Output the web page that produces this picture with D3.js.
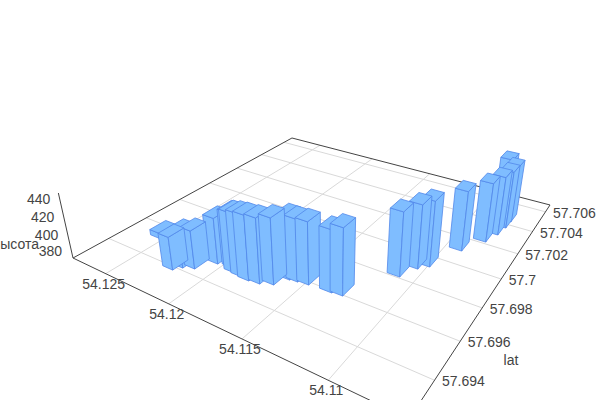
<!DOCTYPE html>
<html>
<head>
<meta charset="utf-8">
<script src="https://d3js.org/d3.v7.min.js"></script>
<style>
body { margin: 0; background: #fff; }
svg { display: block; }
text { font-family: "Liberation Sans", Arial, sans-serif; font-size: 14px; fill: #444; }
.grid { stroke: #d9d9d9; stroke-width: 1; }
.axis { stroke: #444; stroke-width: 1; }
.face { fill: #7fbdff; stroke: #5288ea; stroke-width: 0.8; stroke-linejoin: round; }
</style>
</head>
<body>
<script>
var lonTicks = [54.125, 54.12, 54.115, 54.11];
var latTicks = [57.694, 57.696, 57.698, 57.7, 57.702, 57.704, 57.706];
var zTicks = [380, 400, 420, 440];

// one entry per bar
var lon = [54.12317, 54.12248, 54.12214, 54.1215, 54.12073, 54.11974, 54.11931, 54.11873, 54.11816, 54.11747, 54.11677, 54.1163, 54.11582,
    54.11515, 54.11369, 54.11306, 54.11127, 54.11075, 54.11026, 54.10934, 54.10847, 54.10812, 54.10797, 54.10794, 54.10848];
var lat = [57.69424, 57.69422, 57.69452, 57.69472, 57.69544, 57.69555, 57.69534, 57.69529, 57.69524, 57.69531, 57.69554, 57.6961, 57.69616,
    57.69623, 57.69629, 57.69635, 57.69847, 57.6993, 57.69967, 57.70138, 57.70254, 57.70334, 57.70407, 57.70468, 57.70496];
var top_z = [410, 410, 414, 416, 425, 435, 440, 443, 445, 445, 446, 443, 442,
    442, 441, 446, 445, 445, 447, 442, 442, 442, 441, 441, 444];
var base_z = [404, 372, 372, 372, 372, 372, 372, 372, 372, 372, 372, 372, 372,
    372, 372, 372, 372, 372, 372, 372, 372, 372, 372, 372, 372];

var halfLon = 0.0004, halfLat = 0.0004;

var width = 600, height = 400;
var svg = d3.select("body").append("svg").attr("width", width).attr("height", height);

var uScale = d3.scaleLinear().domain([54.1279, 54.106]).range([0, 1]);
var vScale = d3.scaleLinear().domain([57.6923, 57.70675]).range([0, 1]);
var tScale = d3.scaleLinear().domain([372, 447]).range([0, 1]);

// camera: floor homography and the vanishing point of the verticals
function project(lo, la, z) {
    var u = uScale(lo), v = vScale(la), t = tScale(z);
    var w = 1 - 0.2942 * u + 0.4631 * v - 0.05385 * t;
    return [(215.7 * u + 354.2 * v + 73 - 17.77 * t) / w,
            (37.7 * u - 56.1 * v + 258 - 75.39 * t) / w];
}
function depth(i) {
    return -0.2942 * uScale(lon[i]) + 0.4631 * vScale(lat[i]);
}

var lonEnds = uScale.domain(), latEnds = vScale.domain(), zEnds = tScale.domain();
var z0 = zEnds[0];

function seg(p, q, cls) {
    svg.append("line").attr("class", cls)
        .attr("x1", p[0]).attr("y1", p[1]).attr("x2", q[0]).attr("y2", q[1]);
}

lonTicks.forEach(function (d) {
    seg(project(d, latEnds[0], z0), project(d, latEnds[1], z0), "grid");
});
latTicks.forEach(function (d) {
    seg(project(lonEnds[0], d, z0), project(lonEnds[1], d, z0), "grid");
});

// the three axis lines plus the back edge
seg(project(lonEnds[0], latEnds[0], z0), project(lonEnds[1], latEnds[0], z0), "axis");
seg(project(lonEnds[1], latEnds[0], z0), project(lonEnds[1], latEnds[1], z0), "axis");
seg(project(lonEnds[0], latEnds[0], z0), project(lonEnds[0], latEnds[1], z0), "axis");
seg(project(lonEnds[0], latEnds[1], z0), project(lonEnds[1], latEnds[1], z0), "axis");
seg(project(lonEnds[0], latEnds[0], z0), project(lonEnds[0], latEnds[0], zEnds[1]), "axis");

// bars, far ones first
var order = d3.range(lon.length).sort(function (p, q) { return depth(q) - depth(p); });
var line = d3.line();
order.forEach(function (i) {
    var lo0 = lon[i] + halfLon, lo1 = lon[i] - halfLon;
    var la0 = lat[i] - halfLat, la1 = lat[i] + halfLat;
    var faces = [
        [[lo0, la0, base_z[i]], [lo1, la0, base_z[i]], [lo1, la0, top_z[i]], [lo0, la0, top_z[i]]],
        [[lo1, la0, base_z[i]], [lo1, la1, base_z[i]], [lo1, la1, top_z[i]], [lo1, la0, top_z[i]]],
        [[lo0, la0, top_z[i]], [lo1, la0, top_z[i]], [lo1, la1, top_z[i]], [lo0, la1, top_z[i]]]
    ];
    svg.append("g").selectAll("path").data(faces).join("path")
        .attr("class", "face")
        .attr("d", function (f) {
            return line(f.map(function (p) { return project(p[0], p[1], p[2]); })) + "Z";
        });
});

lonTicks.forEach(function (d) {
    var p = project(d, latEnds[0], z0);
    svg.append("text").attr("x", p[0] - 2).attr("y", p[1] + 15).attr("text-anchor", "middle").text(d);
});
latTicks.forEach(function (d) {
    var p = project(lonEnds[1], d, z0);
    svg.append("text").attr("x", p[0] + 7.5).attr("y", p[1] + 6).text(d);
});
zTicks.forEach(function (d) {
    var p = project(lonEnds[0], latEnds[0], d);
    svg.append("text").attr("x", p[0] - 9.5).attr("y", p[1] + 5).attr("text-anchor", "end").text(d);
});

svg.append("text").attr("x", 511).attr("y", 365).attr("text-anchor", "middle").text("lat");
svg.append("text").attr("x", 39).attr("y", 249).attr("text-anchor", "end").text("высота");
</script>
</body>
</html>
